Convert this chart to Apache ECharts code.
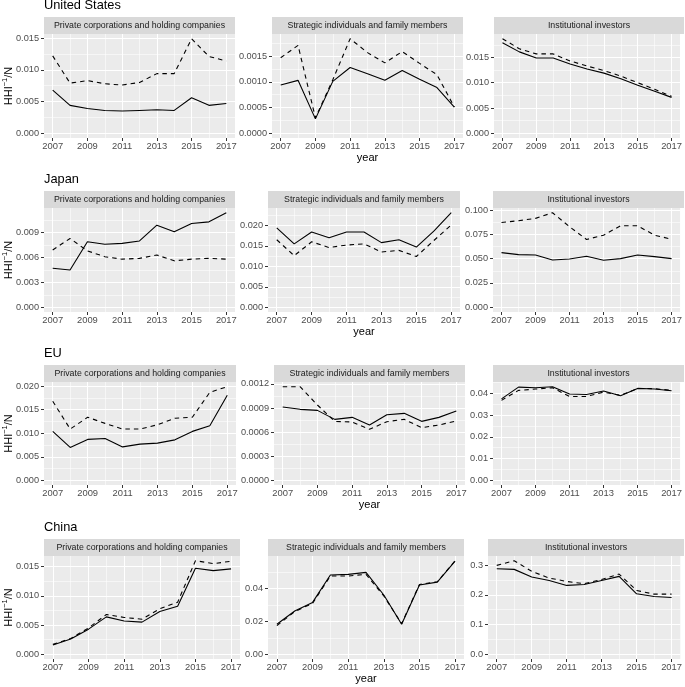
<!DOCTYPE html>
<html><head><meta charset="utf-8">
<script src="https://cdn.jsdelivr.net/npm/echarts@6/dist/echarts.min.js"></script>
<style>html,body{margin:0;padding:0;background:#fff}#c{width:685px;height:687px}</style>
</head><body><div id="c"></div>
<script>
// ---------------- DATA ----------------
const years = [2007, 2008, 2009, 2010, 2011, 2012, 2013, 2014, 2015, 2016, 2017];
const xMajorTicks = [2007, 2009, 2011, 2013, 2015, 2017];
const xMinorLines = [2008, 2010, 2012, 2014, 2016];
const rowTitles = ['United States', 'Japan', 'EU', 'China'];
const panelTitles = ['Private corporations and holding companies', 'Strategic individuals and family members', 'Institutional investors'];
const xAxisTitle = 'year';

// United States
const usPrivateSolid  = [0.0068, 0.0044, 0.0039, 0.0036, 0.0035, 0.0036, 0.0037, 0.0036, 0.0056, 0.0044, 0.0047];
const usPrivateDashed = [0.0122, 0.0079, 0.0083, 0.0078, 0.0076, 0.0080, 0.0094, 0.0094, 0.0149, 0.0121, 0.0114];
const usPrivateTicks  = [0, 0.005, 0.010, 0.015];
const usStrategicSolid  = [0.00094, 0.00103, 0.00028, 0.00101, 0.00128, 0.00116, 0.00103, 0.00122, 0.00105, 0.00089, 0.00051];
const usStrategicDashed = [0.00147, 0.00171, 0.00030, 0.00104, 0.00184, 0.00157, 0.00137, 0.00159, 0.00136, 0.00114, 0.00051];
const usStrategicTicks  = [0, 0.0005, 0.0010, 0.0015];
const usInstSolid  = [0.0179, 0.0161, 0.0149, 0.0149, 0.0137, 0.0127, 0.0119, 0.0108, 0.0095, 0.0083, 0.0071];
const usInstDashed = [0.0187, 0.0167, 0.0157, 0.0157, 0.0143, 0.0133, 0.0124, 0.0113, 0.0100, 0.0087, 0.0073];
const usInstTicks  = [0, 0.005, 0.010, 0.015];

// Japan
const jpPrivateSolid  = [0.0047, 0.0045, 0.0079, 0.0076, 0.0077, 0.0080, 0.0099, 0.0091, 0.0101, 0.0103, 0.0114];
const jpPrivateDashed = [0.0069, 0.0083, 0.0068, 0.0061, 0.0058, 0.0059, 0.0063, 0.0056, 0.0058, 0.0059, 0.0058];
const jpPrivateTicks  = [0, 0.003, 0.006, 0.009];
const jpStrategicSolid  = [0.0194, 0.0155, 0.0184, 0.0170, 0.0184, 0.0184, 0.0158, 0.0165, 0.0147, 0.0186, 0.0231];
const jpStrategicDashed = [0.0165, 0.0126, 0.0160, 0.0146, 0.0152, 0.0155, 0.0135, 0.0139, 0.0124, 0.0163, 0.0201];
const jpStrategicTicks  = [0, 0.005, 0.010, 0.015, 0.020];
const jpInstSolid  = [0.0562, 0.0541, 0.0538, 0.0486, 0.0497, 0.0524, 0.0483, 0.0500, 0.0538, 0.0521, 0.0500];
const jpInstDashed = [0.0872, 0.0890, 0.0914, 0.0972, 0.0828, 0.0697, 0.0741, 0.0838, 0.0838, 0.0741, 0.0700];
const jpInstTicks  = [0, 0.025, 0.050, 0.075, 0.100];

// EU
const euPrivateSolid  = [0.0104, 0.0070, 0.0087, 0.0089, 0.0071, 0.0077, 0.0079, 0.0086, 0.0104, 0.0116, 0.0181];
const euPrivateDashed = [0.0168, 0.0109, 0.0134, 0.0121, 0.0109, 0.0109, 0.0118, 0.0132, 0.0134, 0.0187, 0.0199];
const euPrivateTicks  = [0, 0.005, 0.010, 0.015, 0.020];
const euStrategicSolid  = [0.000913, 0.000884, 0.000871, 0.000759, 0.000784, 0.000689, 0.000817, 0.000834, 0.000734, 0.000784, 0.000863];
const euStrategicDashed = [0.001166, 0.001166, 0.000938, 0.000734, 0.000726, 0.000635, 0.000730, 0.000759, 0.000656, 0.000689, 0.000739];
const euStrategicTicks  = [0, 0.0003, 0.0006, 0.0009, 0.0012];
const euInstSolid  = [0.0375, 0.0429, 0.0426, 0.0431, 0.0397, 0.0395, 0.0411, 0.0389, 0.0423, 0.0420, 0.0412];
const euInstDashed = [0.0368, 0.0414, 0.0420, 0.0426, 0.0386, 0.0386, 0.0406, 0.0391, 0.0423, 0.0422, 0.0414];
const euInstTicks  = [0, 0.01, 0.02, 0.03, 0.04];

// China
const cnPrivateSolid  = [0.0016, 0.0026, 0.0043, 0.0064, 0.0057, 0.0055, 0.0073, 0.0082, 0.0147, 0.0143, 0.0146];
const cnPrivateDashed = [0.0017, 0.0027, 0.0045, 0.0068, 0.0063, 0.0060, 0.0078, 0.0089, 0.0160, 0.0155, 0.0159];
const cnPrivateTicks  = [0, 0.005, 0.010, 0.015];
const cnStrategicSolid  = [0.0182, 0.0263, 0.0315, 0.0481, 0.0485, 0.0497, 0.0360, 0.0182, 0.0420, 0.0438, 0.0565];
const cnStrategicDashed = [0.0174, 0.0259, 0.0309, 0.0475, 0.0475, 0.0485, 0.0354, 0.0186, 0.0424, 0.0440, 0.0568];
const cnStrategicTicks  = [0, 0.02, 0.04];
const cnInstSolid  = [0.2876, 0.2854, 0.2596, 0.2483, 0.2315, 0.2348, 0.2483, 0.2618, 0.2034, 0.1944, 0.1910];
const cnInstDashed = [0.2989, 0.3146, 0.2787, 0.2562, 0.2449, 0.2371, 0.2517, 0.2697, 0.2146, 0.2022, 0.2022];
const cnInstTicks  = [0, 0.1, 0.2, 0.3];

// ---------------- LAYOUT ----------------
const rowPlotTop = [34, 208, 382, 556];
const rowPlotHeight = [104, 104, 103, 103];
const panelX = [
  [[44, 235], [272, 463], [494, 684]],
  [[44, 235], [268, 460], [493, 684]],
  [[44, 236], [274, 465], [493, 684]],
  [[44, 240], [268, 464], [488, 684]]
];
const stripH = 17;
const FONT = "'Liberation Sans', Arial, Helvetica, sans-serif";

const panels = [
  [[usPrivateSolid, usPrivateDashed, usPrivateTicks], [usStrategicSolid, usStrategicDashed, usStrategicTicks], [usInstSolid, usInstDashed, usInstTicks]],
  [[jpPrivateSolid, jpPrivateDashed, jpPrivateTicks], [jpStrategicSolid, jpStrategicDashed, jpStrategicTicks], [jpInstSolid, jpInstDashed, jpInstTicks]],
  [[euPrivateSolid, euPrivateDashed, euPrivateTicks], [euStrategicSolid, euStrategicDashed, euStrategicTicks], [euInstSolid, euInstDashed, euInstTicks]],
  [[cnPrivateSolid, cnPrivateDashed, cnPrivateTicks], [cnStrategicSolid, cnStrategicDashed, cnStrategicTicks], [cnInstSolid, cnInstDashed, cnInstTicks]]
];

function decimalsOf(ticks) {
  let d = 0;
  ticks.forEach(v => { const s = String(v); if (s.indexOf('.') >= 0) d = Math.max(d, s.split('.')[1].length); });
  return d;
}

const grid = [], xAxis = [], yAxis = [], series = [], graphic = [];
let gi = 0;
for (let r = 0; r < 4; r++) {
  const top = rowPlotTop[r], h = rowPlotHeight[r];
  for (let c = 0; c < 3; c++) {
    const [x0, x1] = panelX[r][c];
    const [solid, dashed, ticks] = panels[r][c];
    const M = Math.max(...solid, ...dashed);
    const yMin = -0.05 * M, yMax = 1.05 * M;
    const step = ticks[1] - ticks[0];
    const minor = [];
    for (let i = 0; i < ticks.length - 1; i++) minor.push((ticks[i] + ticks[i + 1]) / 2);
    if (ticks[ticks.length - 1] + step / 2 < yMax) minor.push(ticks[ticks.length - 1] + step / 2);
    const dec = decimalsOf(ticks);

    grid.push({left: x0, top: top, width: x1 - x0, height: h, show: true, backgroundColor: '#ebebeb', borderWidth: 0, containLabel: false});

    xAxis.push({
      type: 'value', gridIndex: gi, min: 2006.5, max: 2017.5,
      axisLine: {show: false, onZero: false},
      axisTick: {show: true, customValues: xMajorTicks, length: 3, lineStyle: {color: '#333333', width: 1}},
      axisLabel: {show: true, customValues: xMajorTicks, formatter: v => String(v), fontSize: 9.4, color: '#4d4d4d', margin: 4, fontFamily: FONT},
      splitLine: {show: true, lineStyle: {color: '#ffffff', width: 1.1}}
    });
    xAxis.push({
      type: 'value', gridIndex: gi, min: 2006.5, max: 2017.5,
      axisLine: {show: false, onZero: false},
      axisTick: {show: false, customValues: xMinorLines},
      axisLabel: {show: false, customValues: xMinorLines},
      splitLine: {show: true, lineStyle: {color: '#ffffff', width: 0.55}}
    });
    yAxis.push({
      type: 'value', gridIndex: gi, min: yMin, max: yMax,
      axisLine: {show: false, onZero: false},
      axisTick: {show: true, customValues: ticks, length: 3, lineStyle: {color: '#333333', width: 1}},
      axisLabel: {show: true, customValues: ticks, formatter: v => v.toFixed(dec), fontSize: 9.2, color: '#4d4d4d', margin: 5, fontFamily: FONT},
      splitLine: {show: true, lineStyle: {color: '#ffffff', width: 1.1}}
    });
    yAxis.push({
      type: 'value', gridIndex: gi, min: yMin, max: yMax,
      axisLine: {show: false, onZero: false},
      axisTick: {show: false, customValues: minor},
      axisLabel: {show: false, customValues: minor},
      splitLine: {show: true, lineStyle: {color: '#ffffff', width: 0.55}}
    });

    const mk = (arr, type) => ({
      type: 'line', xAxisIndex: 2 * gi, yAxisIndex: 2 * gi, symbol: 'none', silent: true, animation: false,
      data: years.map((yr, i) => [yr, arr[i]]),
      lineStyle: {color: '#000000', width: 1.1, type: type}, z: 5
    });
    series.push(mk(solid, 'solid'));
    series.push(mk(dashed, [4.5, 4]));

    graphic.push({type: 'rect', shape: {x: x0, y: top - stripH, width: x1 - x0, height: stripH}, style: {fill: '#d9d9d9'}, silent: true});
    graphic.push({type: 'text', x: (x0 + x1) / 2, y: top - stripH / 2, silent: true, z: 10,
      style: {text: panelTitles[c], fontSize: 8.8, fontFamily: FONT, fill: '#1a1a1a', align: 'center', verticalAlign: 'middle'}});
    gi++;
  }
  graphic.push({type: 'text', x: panelX[r][0][0], y: top - stripH - 5, silent: true, z: 10,
    style: {text: rowTitles[r], fontSize: 12.8, fontFamily: FONT, fill: '#000000', align: 'left', verticalAlign: 'bottom'}});
  graphic.push({type: 'text', x: 9, y: top + h / 2, rotation: Math.PI / 2, silent: true, z: 10,
    style: {text: '{a|HHI}{b|\u22121}{a|/N}', align: 'center', verticalAlign: 'middle',
      rich: {a: {fontSize: 11, fontFamily: FONT, fill: '#000000', lineHeight: 16}, b: {fontSize: 7.5, fontFamily: FONT, fill: '#000000', lineHeight: 8, verticalAlign: 'top'}}}});
  const mid = panelX[r][1];
  graphic.push({type: 'text', x: (mid[0] + mid[1]) / 2, y: top + h + 19.5, silent: true, z: 10,
    style: {text: xAxisTitle, fontSize: 11, fontFamily: FONT, fill: '#000000', align: 'center', verticalAlign: 'middle'}});
}

const chart = echarts.init(document.getElementById('c'), null, {renderer: 'canvas'});
chart.setOption({animation: false, backgroundColor: '#ffffff', grid, xAxis, yAxis, series, graphic});
</script>
</body></html>
